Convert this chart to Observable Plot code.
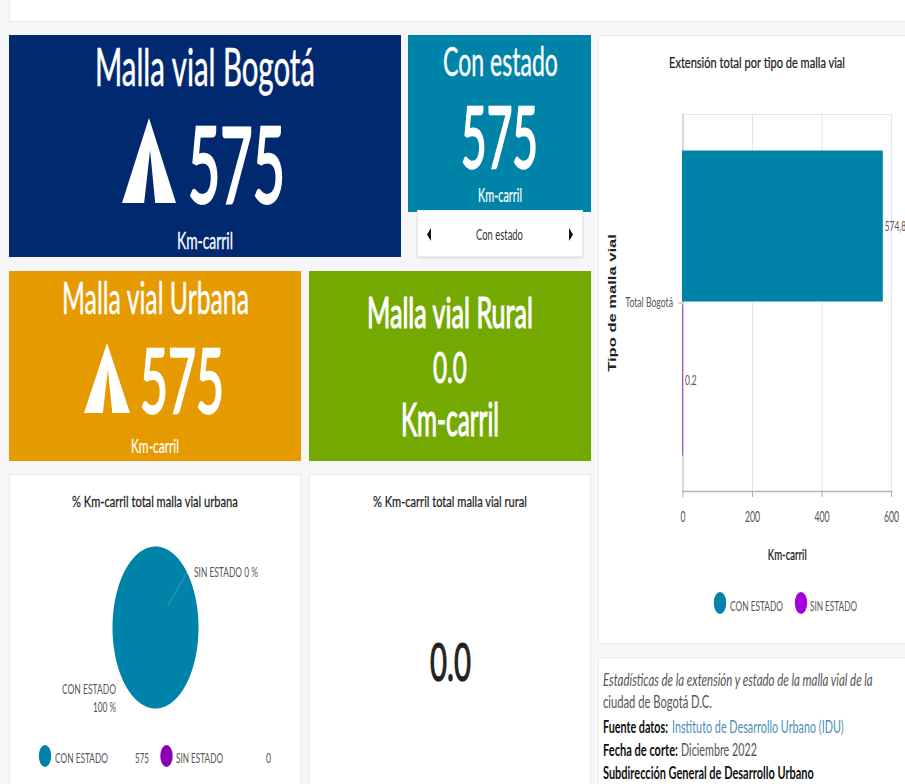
<!DOCTYPE html>
<html lang="es">
<head>
<meta charset="utf-8">
<script src="https://cdn.jsdelivr.net/npm/d3@7"></script>
<script src="https://cdn.jsdelivr.net/npm/@observablehq/plot@0.6"></script>
<style>
html,body{margin:0;padding:0;background:#f6f6f8;overflow:hidden}
#page{position:relative;width:905px;height:784px;overflow:hidden;font-family:Lato,sans-serif}
.tile{position:absolute}
.panel{position:absolute;background:#fff;box-sizing:border-box;border:1px solid #ebebef}
.plot{position:absolute}
#overlay{position:absolute;left:0;top:0;pointer-events:none}
</style>
</head>
<body>
<div id="page"></div>
<script>
// ---- data ----
const estados = ["CON ESTADO", "SIN ESTADO"];
const extension = [574.8, 0.2];
const porcentaje = [100, 0];
const totalLeyenda = [575, 0];
const tipos = ["Total Bogotá"];
const tipoMalla = ["Total Bogotá", "Total Bogotá"];
const ticksKm = [0, 200, 400, 600];
const indicador = {bogota: "575", estado: "575", urbana: "575", rural: "0.0"};
const unidad = "Km-carril";

const teal = "#0083a8", purple = "#a64fc8", navy = "#00296f", orange = "#e59a00", green = "#73a900";

const page = document.getElementById("page");
function box(cls, x0, y0, x1, y1, bg) {
  const d = document.createElement("div");
  d.className = cls;
  d.style.cssText += `left:${x0}px;top:${y0}px;width:${x1 - x0}px;height:${y1 - y0}px;` + (bg ? `background:${bg};` : "");
  page.appendChild(d);
  return d;
}
// layout
box("panel", 9, -2, 906, 22);
box("tile", 9, 35, 401, 257, navy);
box("tile", 408, 35, 591, 212, teal);
box("panel", 417, 210, 583, 257).style.boxShadow = "0 1px 2px #0002";
box("tile", 9, 271, 301, 461, orange);
box("tile", 308.5, 271, 591, 461, green);
box("panel", 9, 474, 301, 790);
box("panel", 308.5, 474, 591, 790);
box("panel", 598, 35, 906, 644);
box("panel", 598, 657, 906, 790);

// ---- bar chart ----
const filas = estados.map((estado, i) => ({estado, value: extension[i], tipo: tipoMalla[i]}));
const bar = Plot.plot({
  width: 307, height: 608,
  marginLeft: 84.5, marginRight: 14, marginTop: 79, marginBottom: 152,
  style: {fontFamily: "Lato, sans-serif", background: "transparent"},
  x: {domain: [0, 600]},
  y: {domain: estados, axis: null, paddingInner: 0.026, paddingOuter: 0.234},
  fy: {domain: tipos, padding: 0, axis: null},
  color: {domain: estados, range: [teal, purple]},
  marks: [
    Plot.gridX(ticksKm, {stroke: "#e6e6e6", strokeOpacity: 1}),
    Plot.frame({stroke: "#e6e6e6"}),
    Plot.frame({anchor: "left", stroke: "#c4c4c4"}),
    Plot.barX(filas, {x: "value", y: "estado", fy: "tipo", fill: "estado", stroke: "estado", strokeWidth: 1}),
    Plot.frame({anchor: "bottom", stroke: "#b4b4b4", strokeWidth: 1.5}),
    Plot.text(filas, {x: "value", y: "estado", fy: "tipo", text: d => String(d.value).replace(".", ","),
      dx: 2, textAnchor: "start", fontSize: 14, fill: "#666"}),
    Plot.axisX({ticks: ticksKm, tickSize: 6, tickPadding: 14, fontSize: 15, stroke: "#aaa", label: unidad,
      labelAnchor: "center", labelArrow: "none", labelOffset: 68}),
    Plot.axisFy({anchor: "left", tickSize: 4, tickPadding: 6, fontSize: 14, stroke: "#aaa", label: "Tipo de malla vial",
      labelAnchor: "center", labelArrow: "none", labelOffset: 75})
  ]
});
bar.classList.add("plot");
bar.style.left = "598px"; bar.style.top = "35px";
page.appendChild(bar);

function squeeze(sel, sx, fill, extra) {
  bar.querySelectorAll(sel).forEach(t => {
    if (extra) Object.assign(t.style, extra);
    if (sx) t.setAttribute("transform", (t.getAttribute("transform") || "") + ` scale(${sx},1)`);
    if (fill) { t.setAttribute("fill", fill); t.style.fill = fill; }
  });
}
squeeze('g[aria-label="x-axis tick label"] text', 0.58, "#555");
squeeze('g[aria-label="fy-axis tick label"] text', 0.62, "#555");
squeeze('g[aria-label="text"] text', 0.6, "#555");
squeeze('g[aria-label="x-axis label"] text', 0.6, "#222", {fontSize: "16px", fontWeight: 500, stroke: "#222", strokeWidth: "0.2px"});
squeeze('g[aria-label="fy-axis label"] text', 1.44, "#222", {fontFamily: "Liberation Sans", fontSize: "11.5px", fontWeight: 700});

// ---- pie chart (elliptical, as in the picture) ----
const inicio = 47.06 * Math.PI / 180;
const arcos = d3.pie().sort(null).startAngle(inicio).endAngle(inicio + 2 * Math.PI)(extension.slice());
const puntosPie = arcos.flatMap((a, i) => {
  const n = Math.max(2, Math.ceil((a.endAngle - a.startAngle) * 60));
  const pts = [{estado: estados[i], px: 0, py: 0}];
  for (const t of d3.range(n + 1)) {
    const ang = a.startAngle + (a.endAngle - a.startAngle) * t / n;
    pts.push({estado: estados[i], px: Math.sin(ang), py: Math.cos(ang)});
  }
  pts.push({estado: estados[i], px: 0, py: 0});
  return pts;
});
const angSin = (arcos[1].startAngle + arcos[1].endAngle) / 2;
const guia = [0.4, 1].map(r => ({px: r * Math.sin(angSin), py: r * Math.cos(angSin)}));
const pie = Plot.plot({
  width: 292, height: 310, margin: 0,
  style: {background: "transparent"},
  x: {domain: [-1, 1], range: [103, 189], axis: null},
  y: {domain: [-1, 1], range: [234, 72], axis: null},
  color: {domain: estados, range: [teal, teal]},
  marks: [
    Plot.line(puntosPie, {x: "px", y: "py", z: "estado", fill: "estado", stroke: null, curve: "linear"}),
    Plot.line(guia, {x: "px", y: "py", stroke: "#fff", strokeOpacity: 0.12, strokeWidth: 1.5})
  ]
});
pie.classList.add("plot");
pie.style.left = "9px"; pie.style.top = "474px";
page.appendChild(pie);

// ---- overlay: texts fitted to the tile geometry ----
const svg = d3.select(page).append("svg").attr("id", "overlay").attr("width", 905).attr("height", 784);
function T(text, x0, x1, base, size, color, o = {}) {
  const t = svg.append("text").text(text)
    .attr("font-family", "Lato, sans-serif").attr("font-size", size).attr("fill", color)
    .attr("font-weight", o.w || 400).attr("font-style", o.i ? "italic" : "normal");
  if (o.s) t.attr("stroke", color).attr("stroke-width", o.s);
  const natural = t.node().getComputedTextLength();
  t.attr("transform", `translate(${x0},${base}) scale(${(x1 - x0) / natural},1)`);
}
function tent(x0, x1, top, base) {
  const w = x1 - x0, h = base - top;
  const pts = [[x0 + w * .5, top], [x1, base], [x0 + w * .615, base], [x0 + w * .52, top + h * .38],
    [x0 + w * .41, base], [x0, base]];
  svg.append("polygon").attr("points", pts.join(" ")).attr("fill", "#fff");
}
function dot(cx, cy, color) {
  svg.append("ellipse").attr("cx", cx).attr("cy", cy).attr("rx", 6.2).attr("ry", 11).attr("fill", color);
}
const W = "#fff";
// navy
T("Malla vial Bogotá", 95, 315, 86, 52, W, {s: 0.6});
tent(122, 176, 118, 203);
T(indicador.bogota, 188, 285, 203, 105, W, {s: 3});
T(unidad, 177, 233, 249, 23, W, {s: 0.3});
// teal
T("Con estado", 443, 558, 76, 41, W, {s: 0.4});
T(indicador.estado, 461, 538, 168, 85, W, {s: 2.4});
T(unidad, 478, 522, 202, 19, W, {s: 0.2});
T("Con estado", 476, 523, 240, 15, "#333");
svg.append("polygon").attr("points", "431,228 431,241 427,234.5").attr("fill", "#111");
svg.append("polygon").attr("points", "569,228 569,241 573,234.5").attr("fill", "#111");
// orange
T("Malla vial Urbana", 62, 249, 314, 44, W, {s: 0.5});
tent(84, 130, 343, 413);
T(indicador.urbana, 140, 224, 413, 90, W, {s: 2.6});
T(unidad, 131, 179, 453, 20, W, {s: 0.2});
// green
T("Malla vial Rural", 367, 533, 328, 43, W, {s: 1.2});
T(indicador.rural, 433, 467, 383, 42, W, {s: 1});
T(unidad, 401, 499, 436, 46, W, {s: 1.2});
// pie panel
T("% Km-carril total malla vial urbana", 72, 238, 507, 16, "#222", {s: 0.25});
T(`${estados[1]} ${porcentaje[1]} %`, 194, 258, 577, 14, "#555");
T(estados[0], 62, 116, 694, 14, "#555");
T(`${porcentaje[0]} %`, 93, 116, 712, 14, "#555");
dot(45, 756, teal);
T(estados[0], 55, 108, 763, 14, "#555");
T(String(totalLeyenda[0]), 135, 149, 763, 14, "#555");
dot(166.5, 756, "#8a00b0");
T(estados[1], 176, 223, 763, 14, "#555");
T(String(totalLeyenda[1]), 266, 271, 763, 14, "#555");
// rural panel
T("% Km-carril total malla vial rural", 373, 527, 507, 16, "#222", {s: 0.25});
T(indicador.rural, 430, 471, 681, 52, "#222", {s: 1.2});
// bar panel
T("Extensión total por tipo de malla vial", 669, 845, 68, 16, "#222", {s: 0.25});
dot(720, 603, teal);
T(estados[0], 730, 783, 611, 14, "#555");
dot(801, 603, "#a400dc");
T(estados[1], 810, 857, 611, 14, "#555");
// notes
T("Estadísticas de la extensión y estado de la malla vial de la", 603, 873, 686, 17, "#555", {i: true});
T("ciudad de Bogotá D.C.", 603, 712, 708, 17, "#555");
T("Fuente datos:", 603, 668, 733, 17, "#111", {w: 700});
T("Instituto de Desarrollo Urbano (IDU)", 672, 844, 733, 17, "#4a90b8");
T("Fecha de corte:", 603, 678, 756, 17, "#111", {w: 700});
T("Diciembre 2022", 681, 757, 756, 17, "#555");
T("Subdirección General de Desarrollo Urbano", 603, 814, 779, 17, "#111", {w: 700});
</script>
</body>
</html>
